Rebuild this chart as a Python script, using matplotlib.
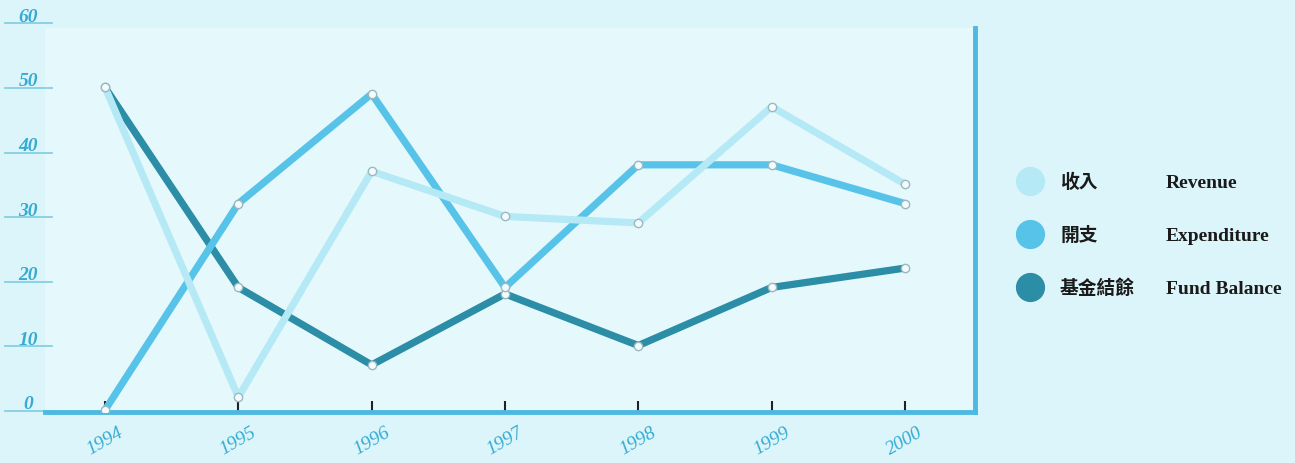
import matplotlib.pyplot as plt
from matplotlib.lines import Line2D
from matplotlib.transforms import blended_transform_factory

# data
years = [1994, 1995, 1996, 1997, 1998, 1999, 2000]
revenue = [50, 2, 37, 30, 29, 47, 35]
expenditure = [0, 32, 49, 19, 38, 38, 32]
fund_balance = [50, 19, 7, 18, 10, 19, 22]
ytick_values = [0, 10, 20, 30, 40, 50, 60]
legend_zh = ['收入', '開支', '基金結餘']
legend_en = ['Revenue', 'Expenditure', 'Fund Balance']

c_rev = '#b6e9f6'
c_exp = '#58c3e8'
c_bal = '#2b8da6'
c_axis = '#4db9e2'
c_label = '#35abd3'

fig = plt.figure(figsize=(12.95, 4.64), dpi=100)
fig.patch.set_facecolor('#dcf5fa')
ax = fig.add_axes([45 / 1295, 1 - 413 / 464, 930 / 1295, 384 / 464])
ax.set_facecolor('#e5f9fc')

series = [(fund_balance, c_bal), (expenditure, c_exp), (revenue, c_rev)]
for vals, col in series:
    ax.plot(years, vals, color=col, lw=5.2, solid_capstyle='round', zorder=2)
for vals, col in series:
    ax.plot(years, vals, ls='none', marker='o', ms=6, mfc='#f4fbfd',
            mec='#9ab8c0', mew=1, zorder=3)

ax.set_xlim(1993.55, 2000.525)
ax.set_ylim(-0.3, 59.2)

for s in ['left', 'top']:
    ax.spines[s].set_visible(False)
for s in ['bottom', 'right']:
    ax.spines[s].set_color(c_axis)
    ax.spines[s].set_linewidth(3.5)

ax.set_xticks(years)
ax.set_xticklabels([str(y) for y in years], rotation=30, ha='center',
                   fontfamily='Liberation Serif', fontstyle='italic',
                   fontsize=14, color=c_label)
ax.tick_params(axis='x', direction='in', length=8, width=1.5, color='#222222',
               pad=8)
ax.tick_params(axis='y', left=False, right=False, labelleft=False)

# y labels with short underline stubs on the left
tr = blended_transform_factory(ax.transAxes, ax.transData)
for v in ytick_values:
    yv = v - 0.1
    ax.plot([-0.043, 0.008], [yv, yv], color='#86cfe3', lw=1.3,
            transform=tr, clip_on=False)
    ax.text(-0.018, yv + 0.4, str(v), transform=tr, ha='center', va='baseline',
            fontfamily='Liberation Serif', fontstyle='italic', fontweight='bold',
            fontsize=14, color=c_label)

# legend
leg_y = [1 - 182 / 464, 1 - 235 / 464, 1 - 288 / 464]
for yy, col, zh, en in zip(leg_y, [c_rev, c_exp, c_bal], legend_zh, legend_en):
    fig.add_artist(Line2D([1030 / 1295], [yy], marker='o', ms=20, mfc=col,
                          mec=col, ls='none', transform=fig.transFigure))
    fig.text(1060 / 1295, yy, zh, ha='left', va='center',
             fontfamily=['Noto Sans CJK TC', 'DejaVu Sans'], fontweight='bold',
             fontsize=13.5, color='#1a1a1a')
    fig.text(1166 / 1295, yy - 0.004, en, ha='left', va='center',
             fontfamily='Liberation Serif', fontweight='bold',
             fontsize=14, color='#1a1a1a')

fig.savefig('out.png', dpi=100, facecolor=fig.get_facecolor())
